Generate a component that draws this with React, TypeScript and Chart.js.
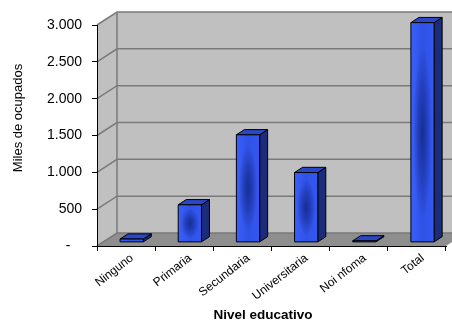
import { useEffect, useRef } from "react";
import { Chart, registerables } from "chart.js";

Chart.register(...registerables);

// Ocupados por nivel educativo (miles)
const categories = ["Ninguno", "Primaria", "Secundaria", "Universitaria", "Noi nfoma", "Total"];
const ocupados = [45, 510, 1460, 948, 20, 2983];
const yTickValues = [0, 500, 1000, 1500, 2000, 2500, 3000];
const yTickLabels = ["-   ", "500", "1.000", "1.500", "2.000", "2.500", "3.000"];
const yTitle = "Miles de ocupados";
const xTitle = "Nivel educativo";

// 3D box geometry: depth of the floor/walls and where the bars sit inside it
const DEPTH_X = 20;
const DEPTH_Y = 13;
const BAR_FRONT = 0.28;
const BAR_BACK = 0.68;

const FONT = "'Liberation Sans', Arial, sans-serif";

const walls3d = {
  id: "walls3d",
  beforeDraw(chart: any) {
    const { ctx, chartArea: a, scales } = chart;
    const y = scales.y;
    ctx.save();
    // back wall
    ctx.fillStyle = "#c0c0c0";
    ctx.fillRect(a.left + DEPTH_X, a.top - DEPTH_Y, a.right - a.left, a.bottom - a.top);
    // left side wall
    ctx.beginPath();
    ctx.moveTo(a.left, a.top);
    ctx.lineTo(a.left + DEPTH_X, a.top - DEPTH_Y);
    ctx.lineTo(a.left + DEPTH_X, a.bottom - DEPTH_Y);
    ctx.lineTo(a.left, a.bottom);
    ctx.closePath();
    ctx.fill();
    // floor
    ctx.fillStyle = "#8e8e8e";
    ctx.beginPath();
    ctx.moveTo(a.left, a.bottom);
    ctx.lineTo(a.left + DEPTH_X, a.bottom - DEPTH_Y);
    ctx.lineTo(a.right + DEPTH_X, a.bottom - DEPTH_Y);
    ctx.lineTo(a.right, a.bottom);
    ctx.closePath();
    ctx.fill();
    // gridlines along the side and back walls
    ctx.strokeStyle = "#7a7a7a";
    ctx.lineWidth = 1.5;
    yTickValues.forEach((v) => {
      const py = y.getPixelForValue(v);
      ctx.beginPath();
      ctx.moveTo(a.left, py);
      ctx.lineTo(a.left + DEPTH_X, py - DEPTH_Y);
      ctx.lineTo(a.right + DEPTH_X, py - DEPTH_Y);
      ctx.stroke();
    });
    // back corner edge
    ctx.beginPath();
    ctx.moveTo(a.left + DEPTH_X, a.top - DEPTH_Y);
    ctx.lineTo(a.left + DEPTH_X, a.bottom - DEPTH_Y);
    ctx.stroke();
    ctx.restore();
  },
};

const bars3d = {
  id: "bars3d",
  afterDatasetsDraw(chart: any) {
    const { ctx } = chart;
    const meta = chart.getDatasetMeta(0);
    const fx = BAR_FRONT * DEPTH_X;
    const fy = -BAR_FRONT * DEPTH_Y;
    const ddx = (BAR_BACK - BAR_FRONT) * DEPTH_X;
    const ddy = -(BAR_BACK - BAR_FRONT) * DEPTH_Y;
    ctx.save();
    ctx.lineWidth = 1;
    ctx.strokeStyle = "#000";
    ctx.lineJoin = "round";
    meta.data.forEach((bar: any) => {
      const { x, y, base, width } = bar.getProps(["x", "y", "base", "width"], true);
      const l = x - width / 2 + fx;
      const r = x + width / 2 + fx;
      const t = y + fy;
      const b = base + fy;
      const w = r - l;
      const h = b - t;

      // side face
      ctx.beginPath();
      ctx.moveTo(r, t);
      ctx.lineTo(r + ddx, t + ddy);
      ctx.lineTo(r + ddx, b + ddy);
      ctx.lineTo(r, b);
      ctx.closePath();
      ctx.fillStyle = "#1b2c7a";
      ctx.fill();
      ctx.stroke();

      // top face
      ctx.beginPath();
      ctx.moveTo(l, t);
      ctx.lineTo(l + ddx, t + ddy);
      ctx.lineTo(r + ddx, t + ddy);
      ctx.lineTo(r, t);
      ctx.closePath();
      ctx.fillStyle = "#2a48c6";
      ctx.fill();
      ctx.stroke();

      // front face with a darker soft centre
      const lg = ctx.createLinearGradient(l, 0, r, 0);
      lg.addColorStop(0, "#3a60fb");
      lg.addColorStop(0.5, "#2f52e6");
      lg.addColorStop(1, "#3457f2");
      ctx.fillStyle = lg;
      ctx.fillRect(l, t, w, h);
      if (h > 6) {
        ctx.save();
        ctx.beginPath();
        ctx.rect(l, t, w, h);
        ctx.clip();
        const cx = l + w * 0.5;
        const cy = t + h * 0.5;
        const ry = h * 0.4;
        const rx = w * 0.4;
        ctx.translate(cx, cy);
        ctx.scale(1, ry / rx);
        const rg = ctx.createRadialGradient(0, 0, 0, 0, 0, rx);
        rg.addColorStop(0, "rgba(20, 42, 140, 0.9)");
        rg.addColorStop(0.5, "rgba(20, 42, 140, 0.5)");
        rg.addColorStop(1, "rgba(20, 42, 140, 0)");
        ctx.fillStyle = rg;
        ctx.fillRect(-rx, -rx, rx * 2, rx * 2);
        ctx.restore();
      }
      ctx.strokeRect(l, t, w, h);
    });
    ctx.restore();
  },
};

const axisTitles = {
  id: "axisTitles",
  afterDraw(chart: any) {
    const { ctx } = chart;
    ctx.save();
    ctx.fillStyle = "#000";
    ctx.textAlign = "center";
    ctx.textBaseline = "middle";
    ctx.font = `13px ${FONT}`;
    ctx.translate(18, 118);
    ctx.rotate(-Math.PI / 2);
    ctx.fillText(yTitle, 0, 0);
    ctx.restore();

    ctx.save();
    ctx.fillStyle = "#000";
    ctx.textAlign = "center";
    ctx.textBaseline = "middle";
    ctx.font = `bold 13.5px ${FONT}`;
    ctx.fillText(xTitle, 263, 315);
    ctx.restore();
  },
};

export default function App() {
  const canvasRef = useRef<HTMLCanvasElement | null>(null);

  useEffect(() => {
    if (!canvasRef.current) return;
    const chart = new Chart(canvasRef.current, {
      type: "bar",
      data: {
        labels: categories,
        datasets: [
          {
            data: ocupados,
            backgroundColor: "rgba(0,0,0,0)",
            borderWidth: 0,
            barPercentage: 0.4,
            categoryPercentage: 1,
          },
        ],
      },
      options: {
        responsive: false,
        animation: false,
        events: [],
        layout: { padding: { top: 25, right: 6, left: 0, bottom: 0 } },
        plugins: {
          legend: { display: false },
          tooltip: { enabled: false },
        },
        scales: {
          x: {
            afterFit: (s: any) => {
              s.height = 76;
            },
            grid: {
              offset: true,
              drawOnChartArea: false,
              drawTicks: true,
              tickLength: 5,
              color: "#000",
            },
            border: { display: true, color: "#000", width: 1 },
            ticks: {
              minRotation: 38,
              maxRotation: 38,
              autoSkip: false,
              labelOffset: 6,
              padding: 0,
              color: "#000",
              font: { family: FONT, size: 12 },
            },
          },
          y: {
            min: 0,
            max: 3000,
            afterFit: (s: any) => {
              s.width = 97;
            },
            afterBuildTicks: (s: any) => {
              s.ticks = yTickValues.map((v) => ({ value: v }));
            },
            grid: {
              drawOnChartArea: false,
              drawTicks: true,
              tickLength: 5,
              color: "#000",
            },
            border: { display: true, color: "#000", width: 1 },
            ticks: {
              padding: 10,
              color: "#000",
              font: { family: FONT, size: 14 },
              callback: (_v: any, i: number) => yTickLabels[i],
            },
          },
        },
      },
      plugins: [walls3d, bars3d, axisTitles],
    });
    return () => chart.destroy();
  }, []);

  return (
    <div style={{ position: "absolute", left: 0, top: 0, width: 452, height: 322, background: "#fff" }}>
      <canvas ref={canvasRef} width={452} height={322} />
    </div>
  );
}
